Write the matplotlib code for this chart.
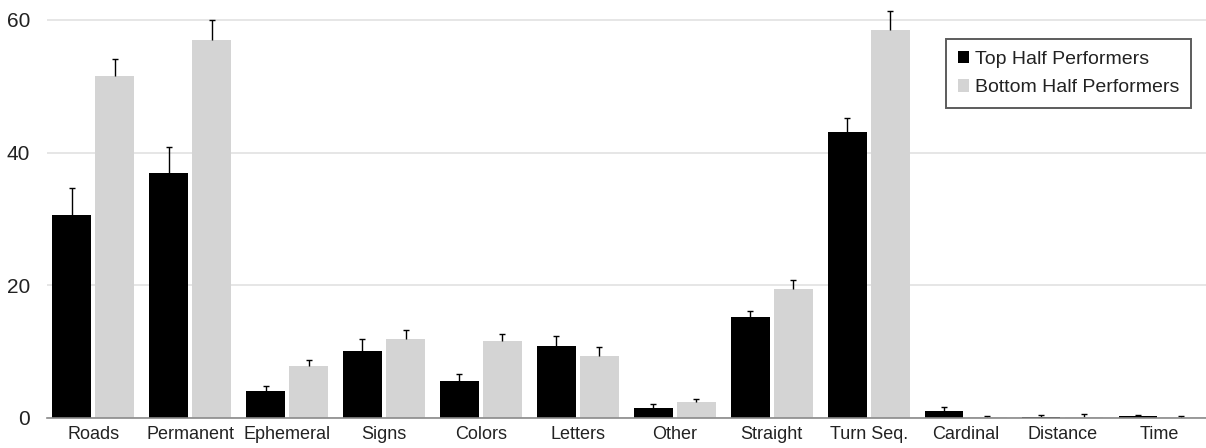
"""
Navigation description categories: top vs bottom half performers.
Grouped bars with upper error bars, saved to out.png.
"""

import numpy as np
import matplotlib.pyplot as plt


# ---------------------------------------------------------
# Data
# ---------------------------------------------------------
categories = ["Roads", "Permanent", "Ephemeral", "Signs", "Colors", "Letters",
              "Other", "Straight", "Turn Seq.", "Cardinal", "Distance", "Time"]

top_half = [30.6, 36.9, 4.1, 10.1, 5.5, 10.8, 1.5, 15.2, 43.1, 1.0, 0.2, 0.3]
top_err = [4.0, 3.9, 0.7, 1.8, 1.1, 1.6, 0.6, 0.9, 2.1, 0.6, 0.2, 0.2]

bottom_half = [51.5, 56.9, 7.9, 11.9, 11.6, 9.4, 2.4, 19.5, 58.5, 0.1, 0.1, 0.05]
bottom_err = [2.6, 3.1, 0.9, 1.3, 1.1, 1.3, 0.5, 1.3, 2.9, 0.2, 0.5, 0.2]

y_ticks = [0, 20, 40, 60]


# ---------------------------------------------------------
# Helpers
# ---------------------------------------------------------
def upper_errorbars(ax, xpos, vals, errs):
    # stem from the bar top up, cap only at the upper end
    vals = np.asarray(vals)
    errs = np.asarray(errs)
    ax.vlines(xpos, vals, vals + errs, color="black", linewidth=1.0, zorder=4)
    ax.plot(xpos, vals + errs, linestyle="none", marker="_", markersize=5,
            markeredgewidth=1.0, color="black", zorder=4)


# ---------------------------------------------------------
# Plot
# ---------------------------------------------------------
def main():
    plt.rcParams["font.family"] = ["Liberation Sans", "DejaVu Sans"]

    fig = plt.figure(figsize=(12.06, 4.48), dpi=100)
    ax = fig.add_axes([0.0387, 0.067, 0.9613, 0.933])

    x = np.arange(len(categories))
    width = 0.40
    offset = 0.222

    ax.bar(x - offset, top_half, width, color="black",
           label="Top Half Performers", zorder=3)
    ax.bar(x + offset, bottom_half, width, color="#d4d4d4",
           label="Bottom Half Performers", zorder=3)
    upper_errorbars(ax, x - offset, top_half, top_err)
    upper_errorbars(ax, x + offset, bottom_half, bottom_err)

    ax.set_xlim(-0.48, len(categories) - 0.52)
    ax.set_ylim(0, 63)
    ax.set_yticks(y_ticks)
    ax.set_xticks(x)
    ax.set_xticklabels(categories)

    ax.yaxis.grid(True, color="#e2e2e2", linewidth=1.2, zorder=0)
    ax.set_axisbelow(True)

    for side in ["top", "right", "left"]:
        ax.spines[side].set_visible(False)
    ax.spines["bottom"].set_color("#8a8a8a")
    ax.spines["bottom"].set_linewidth(1.2)
    ax.spines["bottom"].set_zorder(5)

    ax.tick_params(axis="y", length=0, pad=12, labelsize=15, labelcolor="#222222")
    ax.tick_params(axis="x", length=0, pad=6, labelsize=13, labelcolor="#222222")

    leg = ax.legend(loc="upper right", bbox_to_anchor=(0.9955, 0.93),
                    fontsize=14, frameon=True, fancybox=False,
                    handlelength=0.6, handleheight=0.6, handletextpad=0.3,
                    labelspacing=0.6, borderpad=0.6)
    leg.get_frame().set_edgecolor("#333333")
    leg.get_frame().set_linewidth(1.4)
    for t in leg.get_texts():
        t.set_color("#222222")

    fig.savefig("out.png", dpi=100)
    plt.close(fig)


if __name__ == "__main__":
    main()
